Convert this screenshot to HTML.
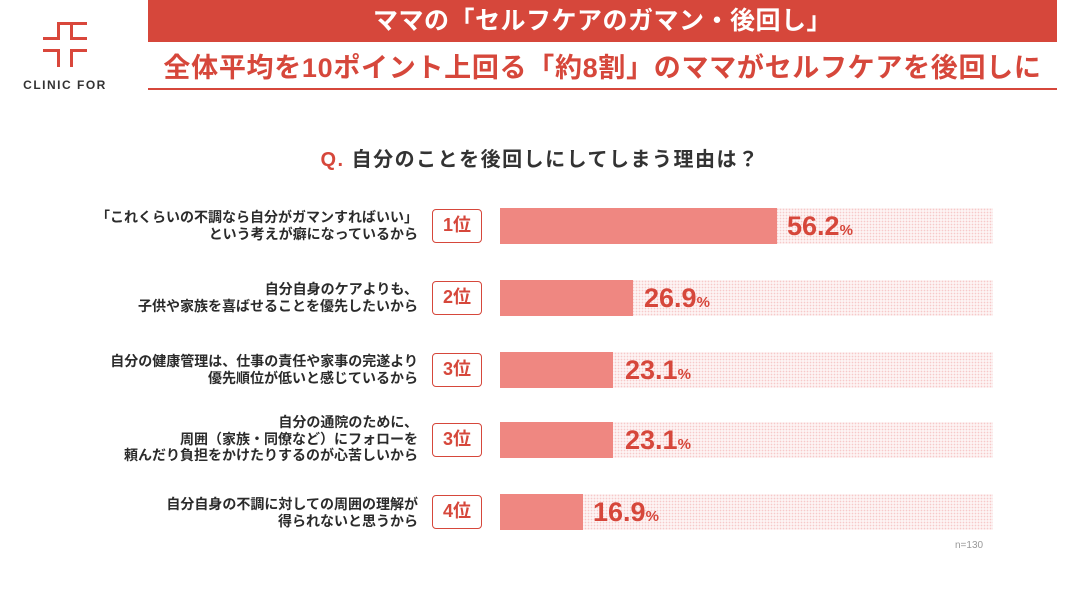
<!DOCTYPE html>
<html><head><meta charset="utf-8"><style>
body{margin:0;width:1080px;height:608px;background:#fff;position:relative;overflow:hidden;font-family:"Liberation Sans","Noto Sans CJK JP",sans-serif;}
.a{position:absolute}
.lg{position:absolute;background:#d9473b}
.band{left:148px;top:0;width:909px;height:42px;background:#d6473b;color:#fff;font-weight:bold;font-size:25px;text-align:center;line-height:42px;letter-spacing:0.5px}
.sub{left:148px;top:50px;width:909px;text-align:center;color:#d6473b;font-weight:bold;font-size:27px;line-height:36px;letter-spacing:0.7px;white-space:nowrap}
.ul{left:148px;top:88px;width:909px;height:2px;background:#d6473b}
.q{left:0;width:1080px;top:143px;text-align:center;font-weight:bold;font-size:20px;color:#333;letter-spacing:1.5px}
.lab{right:662px;text-align:right;font-weight:bold;font-size:14px;line-height:16.5px;color:#2b2b2b;white-space:nowrap}
.rk{left:432px;width:50px;height:34px;border:1.5px solid #d6473b;border-radius:4px;box-sizing:border-box;color:#d6473b;font-weight:bold;font-size:18px;text-align:center;line-height:31px}
.tr{left:500px;width:493px;height:36px;background-color:#fdf3f3;background-image:radial-gradient(#f7c9c9 0.7px,transparent 0.9px);background-size:3px 3px}
.bar{left:500px;height:36px;background:#ef8781}
.v{color:#d6473b;font-weight:bold;font-size:27px;line-height:38px}
.v small{font-size:15px}
</style></head><body>
<div class="lg" style="left:57px;top:22px;width:30px;height:3px"></div>
<div class="lg" style="left:43px;top:37px;width:17px;height:3px"></div>
<div class="lg" style="left:70px;top:37px;width:17px;height:3px"></div>
<div class="lg" style="left:57px;top:22px;width:3px;height:18px"></div>
<div class="lg" style="left:70px;top:25px;width:3px;height:15px"></div>
<div class="lg" style="left:43px;top:49px;width:17px;height:3px"></div>
<div class="lg" style="left:70px;top:49px;width:17px;height:3px"></div>
<div class="lg" style="left:57px;top:49px;width:3px;height:18px"></div>
<div class="lg" style="left:70px;top:49px;width:3px;height:18px"></div>
<div class="a" style="left:20px;top:78px;width:90px;text-align:center;font-size:12px;font-weight:bold;color:#333;letter-spacing:1.5px">CLINIC FOR</div>
<div class="a band">ママの「セルフケアのガマン・後回し」</div>
<div class="a sub">全体平均を10ポイント上回る「約8割」のママがセルフケアを後回しに</div>
<div class="a ul"></div>
<div class="a q"><span style="color:#d6473b">Q.</span> 自分のことを後回しにしてしまう理由は？</div>

<div class="a lab" style="top:209px">「これくらいの不調なら自分がガマンすればいい」<br>という考えが癖になっているから</div>
<div class="a rk" style="top:209px">1位</div>
<div class="a tr" style="top:208px"></div><div class="a bar" style="top:208px;width:277px"></div>
<div class="a v" style="left:787px;top:207px">56.2<small>%</small></div>

<div class="a lab" style="top:281px">自分自身のケアよりも、<br>子供や家族を喜ばせることを優先したいから</div>
<div class="a rk" style="top:281px">2位</div>
<div class="a tr" style="top:280px"></div><div class="a bar" style="top:280px;width:133px"></div>
<div class="a v" style="left:644px;top:279px">26.9<small>%</small></div>

<div class="a lab" style="top:353px">自分の健康管理は、仕事の責任や家事の完遂より<br>優先順位が低いと感じているから</div>
<div class="a rk" style="top:353px">3位</div>
<div class="a tr" style="top:352px"></div><div class="a bar" style="top:352px;width:113px"></div>
<div class="a v" style="left:625px;top:351px">23.1<small>%</small></div>

<div class="a lab" style="top:414px">自分の通院のために、<br>周囲（家族・同僚など）にフォローを<br>頼んだり負担をかけたりするのが心苦しいから</div>
<div class="a rk" style="top:423px">3位</div>
<div class="a tr" style="top:422px"></div><div class="a bar" style="top:422px;width:113px"></div>
<div class="a v" style="left:625px;top:421px">23.1<small>%</small></div>

<div class="a lab" style="top:496px">自分自身の不調に対しての周囲の理解が<br>得られないと思うから</div>
<div class="a rk" style="top:495px">4位</div>
<div class="a tr" style="top:494px"></div><div class="a bar" style="top:494px;width:83px"></div>
<div class="a v" style="left:593px;top:493px">16.9<small>%</small></div>

<div class="a" style="left:955px;top:540px;font-size:10px;color:#999">n=130</div>
</body></html>
